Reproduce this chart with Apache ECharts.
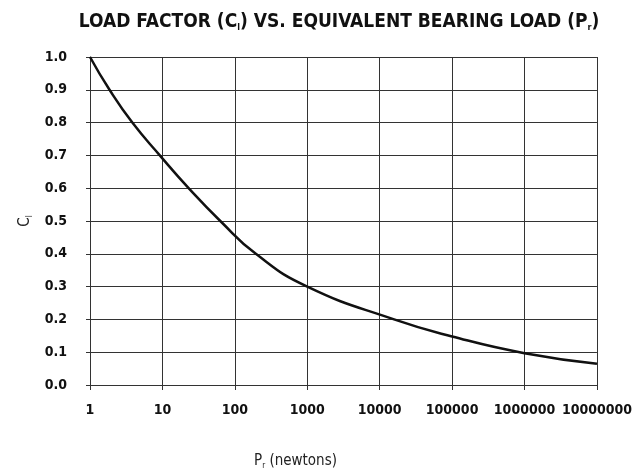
<!DOCTYPE html>
<html>
<head>
<meta charset="utf-8">
<script src="https://cdn.jsdelivr.net/npm/echarts@6/dist/echarts.min.js"></script>
<style>
html,body{margin:0;padding:0;background:#fff;}
#chart{width:635px;height:475px;}
</style>
</head>
<body>
<div id="chart"></div>
<script>
// Data
const loadValues = [1, 1.86, 3.84, 9.2, 23, 63, 195, 1000, 15800, 100000, 1000000, 10000000];
const cValues    = [1.0, 0.9, 0.8, 0.7, 0.6, 0.5, 0.4, 0.3, 0.2, 0.148, 0.097, 0.065];
const xTickLabels = ['1', '10', '100', '1000', '10000', '100000', '1000000', '10000000'];
const yTickLabels = ['0.0','0.1','0.2','0.3','0.4','0.5','0.6','0.7','0.8','0.9','1.0'];

const FONT = "'Liberation Sans Narrow', 'DejaVu Sans Condensed', 'Liberation Sans', sans-serif";
const points = loadValues.map((v, i) => [v, cValues[i]]);

const chart = echarts.init(document.getElementById('chart'));
chart.setOption({
  animation: false,
  backgroundColor: '#fff',
  title: {
    text: '{t|LOAD FACTOR (C}{s|l}{t|) VS. EQUIVALENT BEARING LOAD (P}{s|r}{t|)}',
    left: 334,
    textAlign: 'center',
    top: 8,
    textStyle: {
      rich: {
        t: {fontFamily: FONT, fontWeight: 'bold', fontSize: 19, color: '#111'},
        s: {fontFamily: FONT, fontWeight: 'bold', fontSize: 9, color: '#111', padding: [10, 0, 0, 0]}
      }
    }
  },
  grid: {left: 90, right: 35, top: 57, bottom: 78, containLabel: false},
  xAxis: {
    type: 'log',
    logBase: 10,
    min: 1,
    max: 10000000,
    name: '{t|P}{s|r}{t| (newtons)}',
    nameLocation: 'middle',
    nameGap: 67,
    nameTextStyle: {
      padding: [0, 96, 0, 0],
      rich: {
        t: {fontFamily: FONT, fontSize: 15, color: '#222'},
        s: {fontFamily: FONT, fontSize: 8, color: '#222', padding: [10, 0, 0, 0]}
      }
    },
    axisLine: {show: true, lineStyle: {color: '#333', width: 1}},
    axisTick: {show: true, inside: false, length: 5, lineStyle: {color: '#333'}},
    minorTick: {show: false},
    splitLine: {show: true, lineStyle: {color: '#333', width: 1}},
    axisLabel: {
      margin: 18,
      fontFamily: FONT, fontWeight: 'bold', fontSize: 14, color: '#111',
      formatter: function (v) {
        const idx = Math.round(Math.log10(v));
        return xTickLabels[idx] !== undefined ? xTickLabels[idx] : '';
      }
    }
  },
  yAxis: {
    type: 'value',
    min: 0,
    max: 1,
    interval: 0.1,
    name: '{t|C}{s|l}',
    nameLocation: 'middle',
    nameRotate: 90,
    nameGap: 50,
    nameTextStyle: {
      rich: {
        t: {fontFamily: FONT, fontSize: 15, color: '#222'},
        s: {fontFamily: FONT, fontSize: 8, color: '#222', padding: [10, 0, 0, 0]}
      }
    },
    axisLine: {show: true, lineStyle: {color: '#333', width: 1}},
    axisTick: {show: true, inside: false, length: 4, lineStyle: {color: '#333'}},
    splitLine: {show: true, lineStyle: {color: '#333', width: 1}},
    axisLabel: {
      margin: 23,
      fontFamily: FONT, fontWeight: 'bold', fontSize: 14, color: '#111',
      formatter: function (v) {
        const idx = Math.round(v * 10);
        return yTickLabels[idx];
      }
    }
  },
  series: [{
    type: 'line',
    data: points,
    smooth: 0.5,
    showSymbol: false,
    lineStyle: {color: '#111', width: 2.5}
  }]
});
</script>
</body>
</html>
